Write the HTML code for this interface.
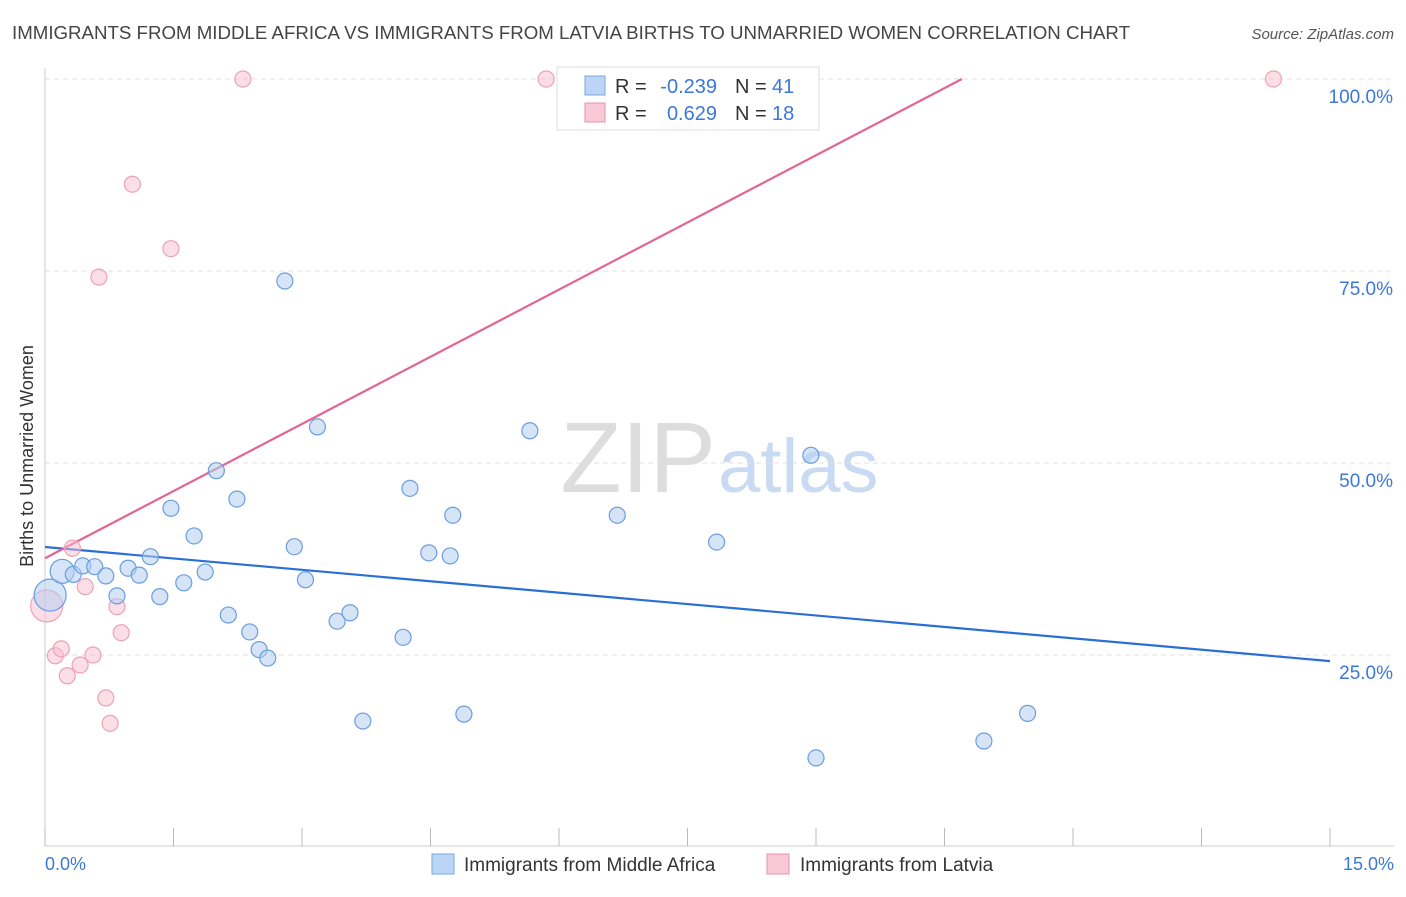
<!DOCTYPE html>
<html><head><meta charset="utf-8"><style>
body{margin:0;background:#fff;font-family:"Liberation Sans",sans-serif;}
svg text{font-family:"Liberation Sans",sans-serif;}
</style></head><body>
<svg id="chart" width="1406" height="892">
<text x="12" y="39" font-size="18" fill="#444" textLength="1118" lengthAdjust="spacingAndGlyphs">IMMIGRANTS FROM MIDDLE AFRICA VS IMMIGRANTS FROM LATVIA BIRTHS TO UNMARRIED WOMEN CORRELATION CHART</text>
<text x="1394" y="39" font-size="15" fill="#555" font-style="italic" text-anchor="end">Source: ZipAtlas.com</text>
<text x="33" y="456" font-size="18" fill="#333" transform="rotate(-90 33 456)" text-anchor="middle">Births to Unmarried Women</text>
<text x="716" y="492" font-size="100" fill="#ddd" text-anchor="end" font-family="Liberation Serif">ZIP</text>
<text x="718" y="492" font-size="76" fill="#c8dbf2">atlas</text>
<g id="grid"></g><g id="axes"></g><g id="lines"></g><g id="pts"></g>
<g>
<rect x="557" y="67" width="262" height="63" fill="#fff" stroke="#ddd"/>
<rect x="585" y="76" width="20" height="19" fill="#bcd4f5" stroke="#7aa7e0"/>
<rect x="585" y="103" width="20" height="19" fill="#f9c8d6" stroke="#e890aa"/>
<text x="615" y="93" font-size="20" fill="#333">R =</text>
<text x="717" y="93" font-size="20" fill="#3b78d8" text-anchor="end">-0.239</text>
<text x="735" y="93" font-size="20" fill="#333">N =</text>
<text x="772" y="93" font-size="20" fill="#3b78d8">41</text>
<text x="615" y="120" font-size="20" fill="#333">R =</text>
<text x="717" y="120" font-size="20" fill="#3b78d8" text-anchor="end">0.629</text>
<text x="735" y="120" font-size="20" fill="#333">N =</text>
<text x="772" y="120" font-size="20" fill="#3b78d8">18</text>
</g>
<g>
<rect x="432" y="854" width="22" height="20" fill="#bcd4f5" stroke="#7aa7e0"/>
<text x="464" y="871" font-size="19" fill="#333">Immigrants from Middle Africa</text>
<rect x="767" y="854" width="22" height="20" fill="#f9c8d6" stroke="#e890aa"/>
<text x="800" y="871" font-size="19" fill="#333">Immigrants from Latvia</text>
</g>
<text x="45" y="870" font-size="18" fill="#3b78d8">0.0%</text>
<text x="1394" y="870" font-size="18" fill="#3b78d8" text-anchor="end">15.0%</text>
</svg>
<script>
const blueX=[0.06,0.20,0.33,0.44,0.58,0.71,0.84,0.97,1.10,1.23,1.34,1.47,1.62,1.74,1.87,2.00,2.14,2.24,2.39,2.50,2.60,2.80,2.91,3.04,3.18,3.41,3.56,3.71,4.18,4.26,4.48,4.73,4.76,4.89,5.66,6.68,7.84,8.94,9.00,10.96,11.47];
const blueY=[32.8,35.9,35.5,36.6,36.5,35.3,32.7,36.3,35.4,37.8,32.6,44.1,34.4,40.5,35.8,49.0,30.2,45.3,28.0,25.7,24.6,73.7,39.1,34.8,54.7,29.4,30.5,16.4,27.3,46.7,38.3,37.9,43.2,17.3,54.2,43.2,39.7,51.0,11.6,13.8,17.4];
const pinkX=[0.02,0.12,0.19,0.26,0.32,0.41,0.47,0.56,0.63,0.71,0.76,0.84,0.89,1.02,1.47,2.31,5.85,14.34];
const pinkY=[31.4,24.9,25.8,22.3,38.9,23.7,33.9,25.0,74.2,19.4,16.1,31.3,27.9,86.3,77.9,100,100,100];
const blueTrend=[39.06,24.2];
const pinkTrend=[37.6,5.83];
const yTicks=[25,50,75,100];
const ns="http://www.w3.org/2000/svg";
const sx=v=>45+v/15*1285, sy=v=>847-v*7.68;
function mk(t,a,p){const e=document.createElementNS(ns,t);for(const k in a)e.setAttribute(k,a[k]);p.appendChild(e);return e;}
const grid=document.getElementById('grid'),axes=document.getElementById('axes'),lines=document.getElementById('lines'),pts=document.getElementById('pts');
yTicks.forEach(t=>{const l=mk('line',{x1:45,x2:1394,y1:sy(t),y2:sy(t),stroke:'#e0e0e0','stroke-dasharray':'5,4'},grid);


const tx=mk('text',{x:1393,y:sy(t)+24,'font-size':19,fill:'#3b78d8','text-anchor':'end'},grid);tx.textContent=t.toFixed(1)+'%';

});
mk('line',{x1:45,x2:45,y1:68,y2:846,stroke:'#ccc'},axes);
mk('line',{x1:45,x2:1394,y1:846,y2:846,stroke:'#ccc'},axes);
for(let i=0;i<=10;i++){const t=mk('line',{x1:sx(i*1.5),x2:sx(i*1.5),y1:828,y2:846,stroke:'#bbb'},axes);

}
const bl=mk('line',{x1:sx(0),y1:sy(blueTrend[0]),x2:sx(15),y2:sy(blueTrend[1]),stroke:'#2a6fd6','stroke-width':2.2},lines);


const xe=(100-pinkTrend[0])/pinkTrend[1];
const pl=mk('line',{x1:sx(0),y1:sy(pinkTrend[0]),x2:sx(xe),y2:sy(100),stroke:'#e36690','stroke-width':2.2},lines);


pinkX.forEach((x,i)=>{const c=mk('circle',{cx:sx(x),cy:sy(pinkY[i]),r:i==0?16:8,fill:'rgba(249,190,208,0.5)',stroke:'#eba2b9','stroke-width':1.2},pts);

});
blueX.forEach((x,i)=>{const c=mk('circle',{cx:sx(x),cy:sy(blueY[i]),r:i==0?16:(i==1?12:8),fill:'rgba(180,205,243,0.55)',stroke:'#6a9de0','stroke-width':1.2},pts);

});
</script>
</body></html>
